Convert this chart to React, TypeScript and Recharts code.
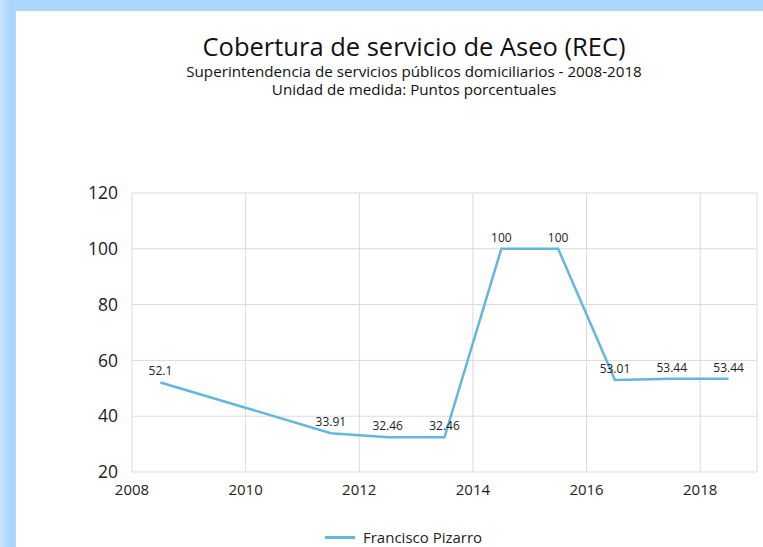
import { LineChart, Line, XAxis, YAxis, CartesianGrid, LabelList } from 'recharts';

const YEARS = [2008, 2011, 2012, 2013, 2014, 2015, 2016, 2017, 2018];
const COBERTURA = [52.1, 33.91, 32.46, 32.46, 100, 100, 53.01, 53.44, 53.44];
const X_TICKS = [2008, 2010, 2012, 2014, 2016, 2018];
const Y_TICKS = [20, 40, 60, 80, 100, 120];

const SERIES_NAME = 'Francisco Pizarro';
const LINE_COLOR = '#62b7e0';
const FONT = '"Open Sans", "Noto Sans", sans-serif';

// points sit in the middle of each year, like the original date axis
const data = YEARS.map((year, i) => ({ x: year + 0.5, value: COBERTURA[i] }));

export default function App() {
  return (
    <div
      style={{
        position: 'fixed',
        left: 0,
        top: 0,
        width: 763,
        height: 547,
        background: 'linear-gradient(90deg, #c9e5fd 0px, #acd6fb 10px)',
        fontFamily: FONT,
        overflow: 'hidden',
      }}
    >
      <div
        style={{
          position: 'absolute',
          left: 16,
          top: 11,
          right: 0,
          bottom: 0,
          background: '#fff',
        }}
      />

      {/* Titles */}
      <div style={{ position: 'absolute', left: 0, width: 828, top: 30, textAlign: 'center', color: '#111' }}>
        <div style={{ fontSize: 25.5, lineHeight: '32px' }}>Cobertura de servicio de Aseo (REC)</div>
        <div style={{ fontSize: 15.2, lineHeight: '18px' }}>
          Superintendencia de servicios públicos domiciliarios - 2008-2018
        </div>
        <div style={{ fontSize: 15.2, lineHeight: '18px' }}>Unidad de medida: Puntos porcentuales</div>
      </div>

      <div style={{ position: 'absolute', left: 0, top: 0 }}>
        <LineChart
          width={763}
          height={547}
          data={data}
          margin={{ top: 193, right: 6, left: 72, bottom: 45 }}
        >
          <CartesianGrid stroke="#dadada" strokeWidth={1} />
          <XAxis
            type="number"
            dataKey="x"
            domain={[2008, 2019]}
            ticks={X_TICKS}
            height={30}
            axisLine={false}
            tickLine={false}
            tickMargin={6}
            tick={{ fontSize: 15, fill: '#222', fontFamily: FONT }}
          />
          <YAxis
            type="number"
            domain={[20, 120]}
            ticks={Y_TICKS}
            width={60}
            axisLine={false}
            tickLine={false}
            tickMargin={8}
            tick={{ fontSize: 17.5, fill: '#222', fontFamily: FONT }}
          />
          <Line
            type="linear"
            dataKey="value"
            name={SERIES_NAME}
            stroke={LINE_COLOR}
            strokeWidth={2.5}
            dot={false}
            isAnimationActive={false}
          >
            <LabelList
              dataKey="value"
              position="top"
              offset={7}
              style={{ fontSize: 12, fill: '#222', fontFamily: FONT }}
            />
          </Line>
        </LineChart>
      </div>

      {/* Legend */}
      <div
        style={{
          position: 'absolute',
          left: 325,
          top: 527,
          display: 'flex',
          alignItems: 'center',
          gap: 8,
          fontSize: 15,
          color: '#222',
        }}
      >
        <span style={{ width: 30, height: 3, background: LINE_COLOR, display: 'inline-block' }} />
        <span>{SERIES_NAME}</span>
      </div>
    </div>
  );
}
